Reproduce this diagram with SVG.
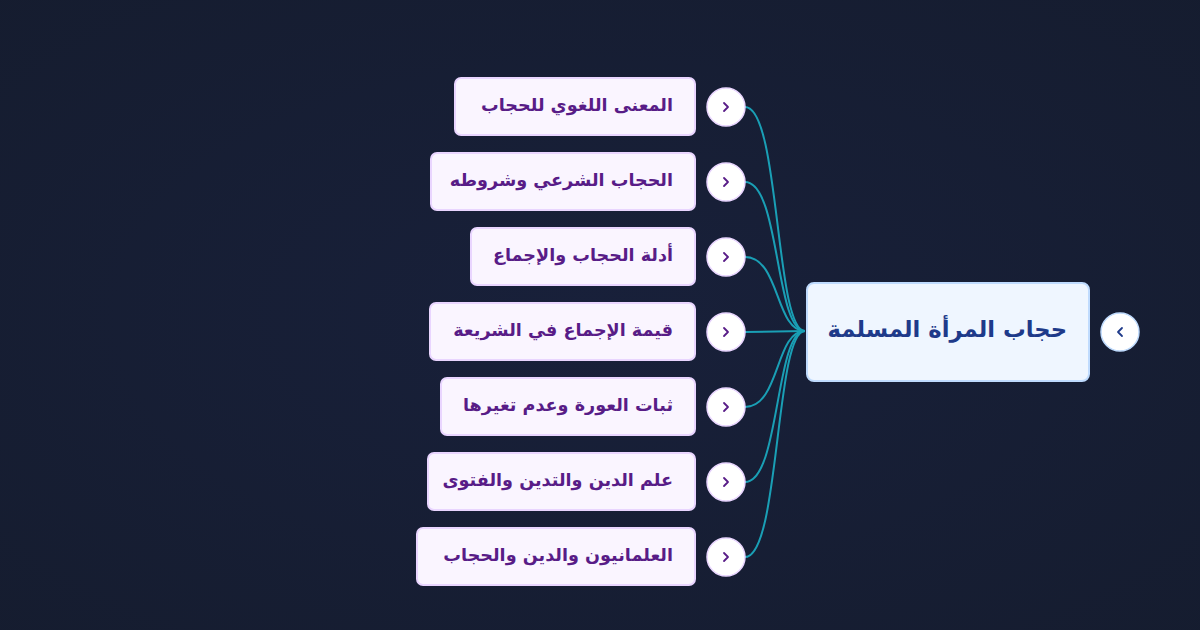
<svg xmlns="http://www.w3.org/2000/svg" width="1200" height="630" viewBox="0 0 1200 630">
<defs>
<radialGradient id="bg" cx="0.5" cy="0.5" r="0.8">
<stop offset="0" stop-color="#18203a"/>
<stop offset="1" stop-color="#151c2e"/>
</radialGradient>
<style>
.child rect{fill:#faf5ff;stroke:#e9d5ff;stroke-width:2}
.child text{font-family:"DejaVu Sans","Noto Sans",sans-serif;font-weight:bold;font-size:17.6px;fill:#581c87}
.tog circle{fill:#ffffff;stroke:#e9d5ff;stroke-width:1.5}
.tog path{fill:none;stroke:#581c87;stroke-width:1.8;stroke-linecap:round;stroke-linejoin:round}
.conn path{fill:none;stroke:#1a9fb5;stroke-width:2}
</style>
</defs>
<rect width="1200" height="630" fill="url(#bg)"/>
<g class="conn" id="connectors">
<path d="M745,107 C780,107 775,331 805,331"/>
<path d="M745,182 C780,182 775,331 805,331"/>
<path d="M745,257 C780,257 775,331 805,331"/>
<path d="M745,332 L805,331"/>
<path d="M745,407 C780,407 775,331 805,331"/>
<path d="M745,482 C780,482 775,331 805,331"/>
<path d="M745,557 C780,557 775,331 805,331"/>
</g>
<g id="root">
<rect x="807" y="283" width="282" height="98" rx="7" fill="#eff6ff" stroke="#bfdbfe" stroke-width="2"/>
<text x="1067" y="337" direction="rtl" text-anchor="start" font-family="DejaVu Sans,sans-serif" font-weight="bold" font-size="22.7" fill="#1e3a8a">حجاب المرأة المسلمة</text>
</g>
<g id="root-toggle" class="tog">
<circle cx="1120" cy="332" r="19" style="stroke:#bfdbfe"/>
<path d="M1122,328 L1118,332 L1122,336" style="stroke:#1e3a8a"/>
</g>
<g id="n1" class="child">
<rect x="455" y="78" width="240" height="57" rx="6"/>
<text x="673" y="111" direction="rtl" text-anchor="start">المعنى اللغوي للحجاب</text>
</g>
<g id="n2" class="child">
<rect x="431" y="153" width="264" height="57" rx="6"/>
<text x="673" y="186" direction="rtl" text-anchor="start">الحجاب الشرعي وشروطه</text>
</g>
<g id="n3" class="child">
<rect x="471" y="228" width="224" height="57" rx="6"/>
<text x="673" y="261" direction="rtl" text-anchor="start">أدلة الحجاب والإجماع</text>
</g>
<g id="n4" class="child">
<rect x="430" y="303" width="265" height="57" rx="6"/>
<text x="673" y="336" direction="rtl" text-anchor="start">قيمة الإجماع في الشريعة</text>
</g>
<g id="n5" class="child">
<rect x="441" y="378" width="254" height="57" rx="6"/>
<text x="673" y="411" direction="rtl" text-anchor="start">ثبات العورة وعدم تغيرها</text>
</g>
<g id="n6" class="child">
<rect x="428" y="453" width="267" height="57" rx="6"/>
<text x="673" y="486" direction="rtl" text-anchor="start">علم الدين والتدين والفتوى</text>
</g>
<g id="n7" class="child">
<rect x="417" y="528" width="278" height="57" rx="6"/>
<text x="673" y="561" direction="rtl" text-anchor="start">العلمانيون والدين والحجاب</text>
</g>
<g id="toggles" class="tog">
<g id="t1"><circle cx="726" cy="107" r="19"/><path d="M724,103 L728,107 L724,111"/></g>
<g id="t2"><circle cx="726" cy="182" r="19"/><path d="M724,178 L728,182 L724,186"/></g>
<g id="t3"><circle cx="726" cy="257" r="19"/><path d="M724,253 L728,257 L724,261"/></g>
<g id="t4"><circle cx="726" cy="332" r="19"/><path d="M724,328 L728,332 L724,336"/></g>
<g id="t5"><circle cx="726" cy="407" r="19"/><path d="M724,403 L728,407 L724,411"/></g>
<g id="t6"><circle cx="726" cy="482" r="19"/><path d="M724,478 L728,482 L724,486"/></g>
<g id="t7"><circle cx="726" cy="557" r="19"/><path d="M724,553 L728,557 L724,561"/></g>
</g>
</svg>
